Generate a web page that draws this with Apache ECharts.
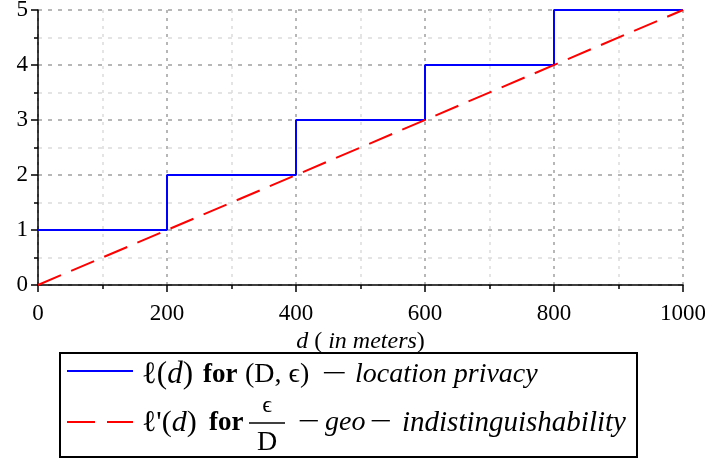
<!DOCTYPE html>
<html><head><meta charset="utf-8">
<script src="https://cdn.jsdelivr.net/npm/echarts@6/dist/echarts.min.js"></script>
<style>html,body{margin:0;padding:0;background:#fff}#c{width:705px;height:461px}</style>
</head><body><div id="c"></div>
<script>
const stepX = [0, 200, 400, 600, 800, 1000];
const stepY = [1, 2, 3, 4, 5, 5];
const lineX = [0, 1000];
const lineY = [0, 5];
const xTicks = [0, 200, 400, 600, 800, 1000];
const yTicks = [0, 1, 2, 3, 4, 5];

const F = '"Liberation Serif","DejaVu Serif",serif';
const FS = 28;
function t(x, y, text, opts) {
  opts = opts || {};
  const el = {type: 'text', x: x, y: y, style: {
    text: text, fill: '#000', align: opts.align || 'left', verticalAlign: 'middle',
    font: (opts.italic ? 'italic ' : '') + (opts.bold ? 'bold ' : '') + (opts.size || FS) + 'px ' + F,
    rich: {i: {fontFamily: F, fontSize: opts.size || FS, fontStyle: 'italic'}}
  }};
  if (opts.scaleX) el.scaleX = opts.scaleX;
  return el;
}
const chart = echarts.init(document.getElementById('c'));
chart.setOption({
  animation: false,
  backgroundColor: '#fff',
  grid: {left: 38, right: 22, top: 10, bottom: 176, containLabel: false, outerBoundsMode: 'none'},
  xAxis: {
    type: 'value', min: xTicks[0], max: xTicks[xTicks.length-1], interval: 200,
    axisLine: {onZero: false, lineStyle: {color: '#000', width: 1.5}},
    axisTick: {show: true, length: 7, lineStyle: {color: '#000', width: 1.5}},
    minorTick: {show: true, splitNumber: 2, length: 4, lineStyle: {color: '#000', width: 1.5}},
    axisLabel: {fontFamily: F, fontSize: 23, color: '#000', margin: 17, formatter: v => String(v)},
    splitLine: {show: true, lineStyle: {color: '#a0a0a0', type: [3, 5], width: 1.5}},
    minorSplitLine: {show: true, lineStyle: {color: '#dcdcdc', type: [3, 5], width: 1.5}},
    name: '{i|d} ( {i|in meters})', nameLocation: 'middle', nameGap: 45,
    nameTextStyle: {fontFamily: F, fontSize: 24, color: '#000',
      rich: {i: {fontFamily: F, fontSize: 24, fontStyle: 'italic', color: '#000'}}}
  },
  yAxis: {
    type: 'value', min: yTicks[0], max: yTicks[yTicks.length-1], interval: 1,
    axisLine: {show: true, onZero: false, lineStyle: {color: '#000', width: 1.5}},
    axisTick: {show: true, length: 7, lineStyle: {color: '#000', width: 1.5}},
    minorTick: {show: true, splitNumber: 2, length: 4, lineStyle: {color: '#000', width: 1.5}},
    axisLabel: {fontFamily: F, fontSize: 23, color: '#000', margin: 10},
    splitLine: {show: true, lineStyle: {color: '#a0a0a0', type: [4, 6], width: 1.5}},
    minorSplitLine: {show: true, lineStyle: {color: '#dcdcdc', type: [4, 6], width: 1.5}}
  },
  series: [
    {type: 'line', step: 'end', symbol: 'none', data: stepX.map((x, i) => [x, stepY[i]]),
     lineStyle: {color: '#0000ff', width: 2}, z: 3},
    {type: 'line', symbol: 'none', data: lineX.map((x, i) => [x, lineY[i]]),
     lineStyle: {color: '#ff0000', width: 2, type: [25, 11]}, z: 4}
  ],
  graphic: [
    {type: 'rect', shape: {x: 60, y: 353, width: 577, height: 104}, style: {fill: '#fff', stroke: '#000', lineWidth: 2}},
    {type: 'line', shape: {x1: 67, y1: 371, x2: 133, y2: 371}, style: {stroke: '#0000ff', lineWidth: 2}},
    {type: 'line', shape: {x1: 67, y1: 422, x2: 133, y2: 422}, style: {stroke: '#ff0000', lineWidth: 2, lineDash: [28, 12]}},
    t(142, 375, 'ℓ({i|d})', {size: 31}),
    t(203, 375, 'for', {bold: true, size: 27}),
    t(245, 375, '(D, ϵ)'),
    t(322, 375, '−', {scaleX: 1.6}),
    t(355, 375, 'location privacy', {italic: true}),
    t(142, 423, 'ℓ\'({i|d})', {size: 30}),
    t(209, 423, 'for', {bold: true, size: 27}),
    t(267, 406, 'ϵ', {align: 'center', size: 24}),
    {type: 'line', shape: {x1: 249, y1: 423, x2: 285, y2: 423}, style: {stroke: '#000', lineWidth: 1.5}},
    t(267, 443, 'D', {align: 'center'}),
    t(298, 423, '−', {scaleX: 1.4}),
    t(325, 423, 'geo', {italic: true}),
    t(370, 423, '−', {scaleX: 1.4}),
    t(402, 423, 'indistinguishability', {italic: true, size: 29})
  ]
});
</script></body></html>
